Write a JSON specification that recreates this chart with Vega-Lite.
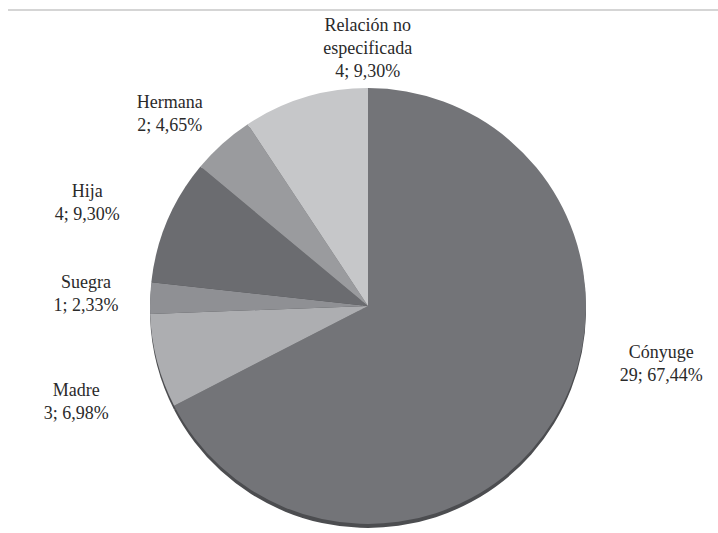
{
  "$schema": "https://vega.github.io/schema/vega-lite/v6.json",
  "width": 710,
  "height": 523,
  "autosize": {"type": "none"},
  "padding": {"left": 8, "top": 10, "right": 0, "bottom": 0},
  "background": "white",
  "config": {
    "view": {"stroke": null},
    "text": {"font": "Liberation Serif", "fontSize": 18, "lineBreak": "\n", "lineHeight": 23, "align": "center", "baseline": "middle", "color": "#2a2a2a"}
  },
  "data": {
    "values": [
      {"categoria": "Cónyuge", "n": 29, "orden": 1, "etiqueta": "Cónyuge\n29; 67,44%"},
      {"categoria": "Madre", "n": 3, "orden": 2, "etiqueta": "Madre\n3; 6,98%"},
      {"categoria": "Suegra", "n": 1, "orden": 3, "etiqueta": "Suegra\n1; 2,33%"},
      {"categoria": "Hija", "n": 4, "orden": 4, "etiqueta": "Hija\n4; 9,30%"},
      {"categoria": "Hermana", "n": 2, "orden": 5, "etiqueta": "Hermana\n2; 4,65%"},
      {"categoria": "Relación no especificada", "n": 4, "orden": 6, "etiqueta": "Relación no\nespecificada\n4; 9,30%"}
    ]
  },
  "layer": [
    {
      "data": {"values": [{}]},
      "mark": {"type": "rule", "color": "#ababab", "strokeWidth": 1.2},
      "encoding": {"y": {"value": 0}}
    },
    {
      "mark": {"type": "arc", "outerRadius": 218, "color": "#4c4d50", "xOffset": 5, "yOffset": 38.5},
      "encoding": {
        "theta": {"field": "n", "type": "quantitative", "stack": true},
        "order": {"field": "orden", "type": "quantitative"}
      }
    },
    {
      "mark": {"type": "arc", "outerRadius": 218, "xOffset": 5, "yOffset": 34.5},
      "encoding": {
        "theta": {"field": "n", "type": "quantitative", "stack": true},
        "order": {"field": "orden", "type": "quantitative"},
        "color": {
          "field": "categoria",
          "type": "nominal",
          "scale": {
            "domain": ["Cónyuge", "Madre", "Suegra", "Hija", "Hermana", "Relación no especificada"],
            "range": ["#737478", "#adaeb1", "#8f9094", "#6b6c70", "#9a9b9e", "#c6c7c9"]
          },
          "legend": null
        }
      }
    },
    {
      "mark": {"type": "text", "radius": 284, "thetaOffset": -0.042, "xOffset": 5, "yOffset": 34.5},
      "encoding": {
        "theta": {"field": "n", "type": "quantitative", "stack": true},
        "order": {"field": "orden", "type": "quantitative"},
        "text": {"field": "etiqueta"},
        "opacity": {"condition": {"test": "datum.categoria === 'Hermana'", "value": 1}, "value": 0}
      }
    },
    {
      "mark": {"type": "text", "radius": 283, "thetaOffset": 0.045, "xOffset": 5, "yOffset": 34.5},
      "encoding": {
        "theta": {"field": "n", "type": "quantitative", "stack": true},
        "order": {"field": "orden", "type": "quantitative"},
        "text": {"field": "etiqueta"},
        "opacity": {"condition": {"test": "datum.categoria === 'Suegra'", "value": 1}, "value": 0}
      }
    },
    {
      "mark": {"type": "text", "radius": 303, "thetaOffset": -0.016, "xOffset": 5, "yOffset": 34.5},
      "encoding": {
        "theta": {"field": "n", "type": "quantitative", "stack": true},
        "order": {"field": "orden", "type": "quantitative"},
        "text": {"field": "etiqueta"},
        "opacity": {"condition": {"test": "datum.categoria === 'Hija'", "value": 1}, "value": 0}
      }
    },
    {
      "mark": {"type": "text", "radius": 304, "thetaOffset": -0.028, "xOffset": 5, "yOffset": 34.5},
      "encoding": {
        "theta": {"field": "n", "type": "quantitative", "stack": true},
        "order": {"field": "orden", "type": "quantitative"},
        "text": {"field": "etiqueta"},
        "opacity": {"condition": {"test": "datum.categoria === 'Madre'", "value": 1}, "value": 0}
      }
    },
    {
      "mark": {"type": "text", "radius": 297, "thetaOffset": -0.389, "xOffset": 5, "yOffset": 34.5},
      "encoding": {
        "theta": {"field": "n", "type": "quantitative", "stack": true},
        "order": {"field": "orden", "type": "quantitative"},
        "text": {"field": "etiqueta"},
        "opacity": {"condition": {"test": "datum.categoria === 'Cónyuge'", "value": 1}, "value": 0}
      }
    },
    {
      "mark": {"type": "text", "radius": 280, "thetaOffset": 0.291, "xOffset": 5, "yOffset": 34.5},
      "encoding": {
        "theta": {"field": "n", "type": "quantitative", "stack": true},
        "order": {"field": "orden", "type": "quantitative"},
        "text": {"field": "etiqueta"},
        "opacity": {"condition": {"test": "datum.categoria === 'Relación no especificada'", "value": 1}, "value": 0}
      }
    }
  ]
}
